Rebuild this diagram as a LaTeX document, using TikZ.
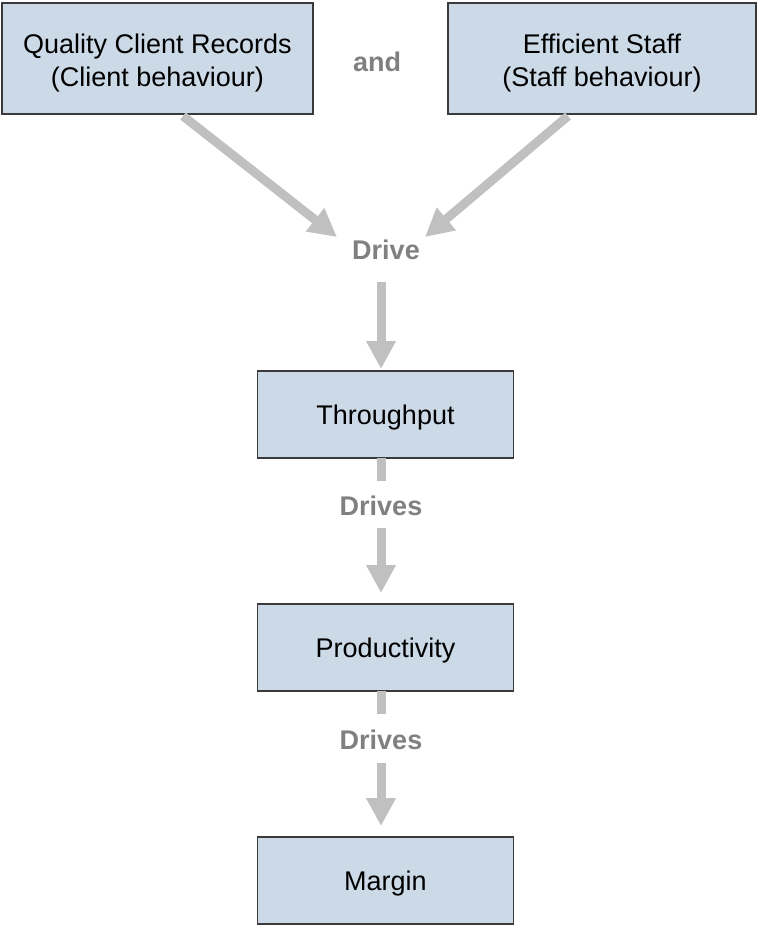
\documentclass[tikz,border=0pt]{standalone}
\usepackage{fontspec}
\setmainfont{Liberation Sans}
\usetikzlibrary{arrows.meta}
\definecolor{boxfill}{HTML}{CCDAE8}
\definecolor{boxline}{HTML}{3A3A3A}
\definecolor{arrowgray}{HTML}{C0C0C0}
\definecolor{labelgray}{HTML}{808080}
\tikzset{
  box/.style={draw=boxline, line width=1.4pt, fill=boxfill, align=center,
    font=\fontsize{27}{33}\selectfont, inner sep=0pt},
  onebox/.style={box, text height=19.3pt, text depth=0pt},
  lbl/.style={text=labelgray, font=\bfseries\fontsize{27}{33}\selectfont, inner sep=0pt,
    text height=19.3pt, text depth=0pt},
  bigarrow/.style={draw=arrowgray, line width=9pt, -{Triangle[width=28pt,length=28pt]}},
  shaft/.style={draw=arrowgray, line width=9pt},
}
\begin{document}
\begin{tikzpicture}[x=1pt,y=-1pt]
\useasboundingbox (0,0) rectangle (758,926);
\node[box, minimum width=311pt, minimum height=111pt] (qcr) at (157.5,58.5)
  {\rule{0pt}{28pt}Quality Client Records\\(Client behaviour)};
\node[box, minimum width=308pt, minimum height=111pt] (es) at (602,58.5)
  {\rule{0pt}{28pt}Efficient Staff\\(Staff behaviour)};
\node[lbl] (and) at (377,62) {and};
\node[lbl] (drive) at (386,249.5) {Drive};
\node[onebox, minimum width=256pt, minimum height=87pt] (thr) at (385.5,414.5) {Throughput};
\node[onebox, minimum width=256pt, minimum height=87pt] (prod) at (385.5,647.5) {Productivity};
\node[onebox, minimum width=256pt, minimum height=87pt] (mar) at (385.5,880.5) {Margin};
\node[lbl] (d1) at (381,506) {Drives};
\node[lbl] (d2) at (381,740) {Drives};
% free ends
\coordinate (qcrout) at (183,116);
\coordinate (esout) at (568,116);
\coordinate (ltip) at (337,237);
\coordinate (rtip) at (425,237);
\coordinate (dstart) at (381,282);
\coordinate (t1) at (381,369);
\coordinate (s1a) at (381,458);
\coordinate (s1b) at (381,481);
\coordinate (a1) at (381,528);
\coordinate (t2) at (381,593);
\coordinate (s2a) at (381,691);
\coordinate (s2b) at (381,714);
\coordinate (a2) at (381,763);
\coordinate (t3) at (381,826);
\draw[bigarrow] (qcrout) -- (ltip);
\draw[bigarrow] (esout) -- (rtip);
\draw[bigarrow] (dstart) -- (t1);
\draw[shaft] (s1a) -- (s1b);
\draw[bigarrow] (a1) -- (t2);
\draw[shaft] (s2a) -- (s2b);
\draw[bigarrow] (a2) -- (t3);
\end{tikzpicture}
\end{document}
